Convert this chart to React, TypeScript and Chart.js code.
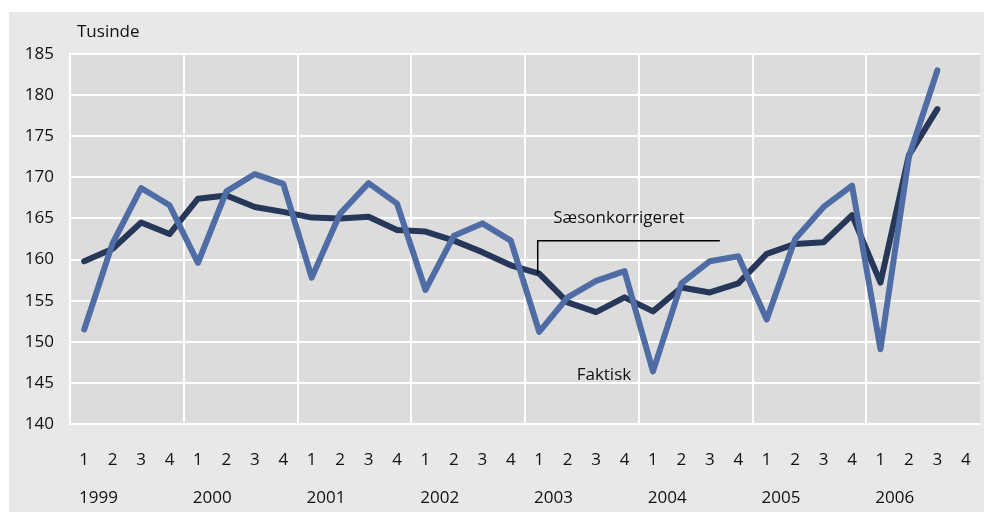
import React, { useEffect, useRef } from "react";
import { Chart, registerables } from "chart.js";

Chart.register(...registerables);

const years = ["1999", "2000", "2001", "2002", "2003", "2004", "2005", "2006"];
const quarterLabels = years.flatMap(() => ["1", "2", "3", "4"]);
const yTicks = [140, 145, 150, 155, 160, 165, 170, 175, 180, 185];

const faktisk = [
  151.5, 162.0, 168.7, 166.6,
  159.6, 168.3, 170.4, 169.2,
  157.8, 165.6, 169.3, 166.8,
  156.3, 162.9, 164.4, 162.3,
  151.2, 155.4, 157.4, 158.6,
  146.4, 157.1, 159.8, 160.4,
  152.7, 162.5, 166.4, 169.0,
  149.1, 172.5, 183.0, null,
];

const saesonkorrigeret = [
  159.8, 161.3, 164.5, 163.1,
  167.4, 167.8, 166.4, 165.8,
  165.1, 165.0, 165.2, 163.6,
  163.4, 162.3, 160.9, 159.3,
  158.3, 154.8, 153.6, 155.4,
  153.7, 156.6, 156.0, 157.1,
  160.7, 161.9, 162.1, 165.4,
  157.2, 172.7, 178.3, null,
];

const FONT = "'Open Sans', 'Liberation Sans', sans-serif";
const TEXT = "#111111";

const decorPlugin = {
  id: "decor",
  beforeDraw(chart: any) {
    const { ctx, chartArea } = chart;
    ctx.save();
    ctx.fillStyle = "#dcdcdc";
    ctx.fillRect(chartArea.left, chartArea.top, chartArea.right - chartArea.left, chartArea.bottom - chartArea.top);
    ctx.restore();
  },
  afterDraw(chart: any) {
    const { ctx, chartArea } = chart;
    const x = chart.scales.x;
    const y = chart.scales.y;
    ctx.save();
    ctx.fillStyle = TEXT;
    ctx.font = `17px ${FONT}`;
    // unit title
    ctx.textAlign = "left";
    ctx.textBaseline = "middle";
    ctx.fillText("Tusinde", chartArea.left + 7, chartArea.top - 22);
    // year labels
    ctx.textAlign = "center";
    years.forEach((yr, i) => {
      const cx = (x.getPixelForValue(i * 4) + x.getPixelForValue(i * 4 + 1)) / 2;
      ctx.fillText(yr, cx, chartArea.bottom + 74);
    });
    // annotations
    ctx.textAlign = "left";
    const ax = x.getPixelForValue(16);
    const ay = y.getPixelForValue(saesonkorrigeret[16] as number);
    const lineY = y.getPixelForValue(162.3);
    ctx.fillText("Sæsonkorrigeret", ax + 14, y.getPixelForValue(165.0));
    ctx.strokeStyle = "#000000";
    ctx.lineWidth = 1.5;
    ctx.beginPath();
    ctx.moveTo(ax - 1.5, ay);
    ctx.lineTo(ax - 1.5, lineY);
    ctx.lineTo(x.getPixelForValue(22) + 10, lineY);
    ctx.stroke();
    ctx.fillText("Faktisk", x.getPixelForValue(17) + 9, y.getPixelForValue(146.0));
    ctx.restore();
  },
};

export default function App() {
  const ref = useRef<HTMLCanvasElement | null>(null);
  useEffect(() => {
    if (!ref.current) return;
    const chart = new Chart(ref.current, {
      type: "line",
      data: {
        labels: quarterLabels,
        datasets: [
          {
            label: "Faktisk",
            data: faktisk,
            borderColor: "#4f6da4",
            borderWidth: 6,
            pointRadius: 0,
            tension: 0,
            borderCapStyle: "round",
            borderJoinStyle: "round",
            fill: false,
          },
          {
            label: "Sæsonkorrigeret",
            data: saesonkorrigeret,
            borderColor: "#263759",
            borderWidth: 6,
            pointRadius: 0,
            tension: 0,
            borderCapStyle: "round",
            borderJoinStyle: "round",
            fill: false,
          },
        ],
      },
      options: {
        animation: false,
        responsive: false,
        maintainAspectRatio: false,
        layout: { padding: { top: 42, right: 4, left: 0, bottom: 0 } },
        plugins: {
          legend: { display: false },
          tooltip: { enabled: false },
        },
        scales: {
          x: {
            type: "category",
            offset: true,
            grid: {
              offset: true,
              drawTicks: true,
              tickLength: 26,
              tickColor: "rgba(0,0,0,0)",
              lineWidth: 2,
              color: (c: any) => (c.index % 4 === 0 ? "#ffffff" : "rgba(0,0,0,0)"),
            },
            border: { display: true, color: "#ffffff", width: 2 },
            ticks: {
              autoSkip: false,
              maxRotation: 0,
              padding: 0,
              color: TEXT,
              font: { family: FONT, size: 17 },
            },
            afterFit: (s: any) => {
              s.height = 88;
            },
          },
          y: {
            min: 140,
            max: 185,
            afterBuildTicks: (s: any) => {
              s.ticks = yTicks.map((v) => ({ value: v }));
            },
            grid: { drawTicks: false, lineWidth: 2, color: "#ffffff" },
            border: { display: true, color: "#ffffff", width: 2 },
            ticks: {
              padding: 16,
              color: TEXT,
              font: { family: FONT, size: 17 },
            },
            afterFit: (s: any) => {
              s.width = 61;
            },
          },
        },
      },
      plugins: [decorPlugin],
    } as any);
    return () => chart.destroy();
  }, []);

  return (
    <div style={{ position: "fixed", left: 0, top: 0, width: 984, height: 512, background: "#ffffff", overflow: "hidden" }}>
      <div style={{ position: "absolute", left: 9, top: 12, width: 975, height: 500, background: "#e8e8e8" }}>
        <canvas ref={ref} width={975} height={500} style={{ display: "block", width: 975, height: 500 }} />
      </div>
    </div>
  );
}
